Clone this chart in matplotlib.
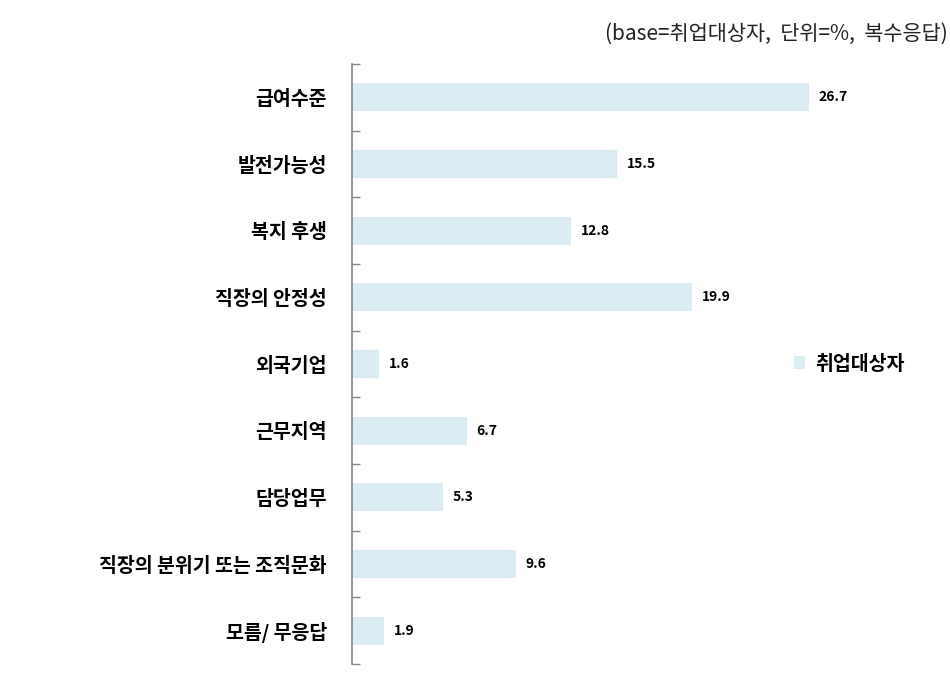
import matplotlib.pyplot as plt
import numpy as np

plt.rcParams['font.family'] = ['Noto Sans CJK KR', 'DejaVu Sans']

categories = ['급여수준', '발전가능성', '복지 후생', '직장의 안정성', '외국기업',
              '근무지역', '담당업무', '직장의 분위기 또는 조직문화', '모름/ 무응답']
values = [26.7, 15.5, 12.8, 19.9, 1.6, 6.7, 5.3, 9.6, 1.9]
series_name = '취업대상자'
note = '(base=취업대상자,  단위=%,  복수응답)'

bar_color = '#dbedf3'

fig = plt.figure(figsize=(9.5, 6.98), dpi=100)
ax = fig.add_axes([0.3705, 0.0487, 0.58, 0.8596])

y = np.arange(len(categories))
ax.barh(y, values, height=0.42, color=bar_color, label=series_name)
ax.set_ylim(len(categories) - 0.5, -0.5)
ax.set_xlim(0, 32.2)

for yi, v in zip(y, values):
    ax.text(v + 0.55, yi, f'{v:.1f}', va='center', ha='left',
            fontsize=10, fontweight='bold', color='black')

ax.set_yticks(y)
ax.set_yticklabels(categories, fontsize=14, fontweight='bold')
ax.set_yticks(np.arange(len(categories) + 1) - 0.5, minor=True)
ax.tick_params(axis='y', which='major', length=0, pad=18)
ax.tick_params(axis='y', which='minor', length=6, direction='in', color='#888888', width=1)
ax.set_xticks([])
for s in ['top', 'right', 'bottom']:
    ax.spines[s].set_visible(False)
ax.spines['left'].set_color('#888888')
ax.spines['left'].set_linewidth(1.2)

ax.legend(loc='center left', bbox_to_anchor=(0.77, 0.5), frameon=False,
          prop={'weight': 'bold', 'size': 14}, handlelength=0.6, handleheight=0.6,
          handletextpad=0.5)

fig.text(0.998, 0.951, note, ha='right', va='center', fontsize=15, color='#222222')

fig.savefig('out.png', dpi=100)
